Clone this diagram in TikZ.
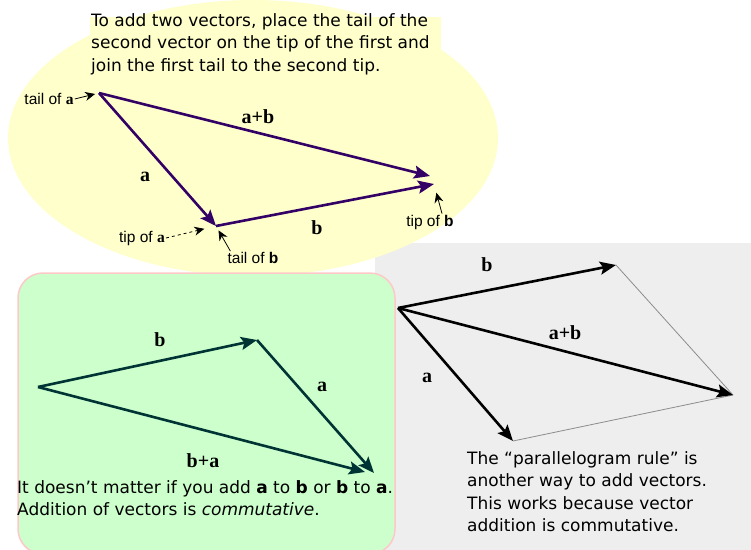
\documentclass[tikz,border=0pt]{standalone}
\usepackage{fontspec}
\setmainfont{DejaVu Sans}
\newfontfamily\labelfont{Liberation Sans}
\newfontfamily\vecfont{Liberation Serif}
\usetikzlibrary{arrows.meta,positioning}

\definecolor{ovalyellow}{HTML}{FFFFCC}
\definecolor{boxgreen}{HTML}{CCFFCC}
\definecolor{boxpink}{HTML}{FFC8C8}
\definecolor{panelgray}{HTML}{EEEEEE}
\definecolor{vecpurple}{HTML}{330066}
\definecolor{vecteal}{HTML}{003333}

\newcommand{\sva}{{\vecfont\bfseries a}}
\newcommand{\svb}{{\bfseries b}}

\begin{document}
\begin{tikzpicture}[x=1pt, y=-1pt,
  vec/.style={line width=2.6pt, -{Stealth[length=16pt, width=13pt, inset=3pt]}},
  topvec/.style={vec, draw=vecpurple},
  grnvec/.style={vec, draw=vecteal},
  parvec/.style={vec, draw=black},
  edge/.style={draw=black!45, line width=0.8pt},
  vlabel/.style={font=\fontsize{20}{21}\vecfont\bfseries, inner sep=1pt},
  ptr/.style={font=\fontsize{15.5}{16}\labelfont, inner sep=1pt},
  pointer/.style={draw=black, line width=0.8pt, -{Stealth[length=10pt, width=9pt]}},
  note/.style={font=\fontsize{17}{22.5}\selectfont, align=left, inner sep=0pt}
]
\useasboundingbox (0,0) rectangle (751,549);

% backgrounds
\fill[panelgray] (375,243) rectangle (760,560);
\fill[ovalyellow] (253,138) ellipse [x radius=245pt, y radius=138pt];
\fill[ovalyellow] (90,17) rectangle (441,85);
\draw[boxpink, fill=boxgreen, line width=1.5pt, rounded corners=25pt] (18,273) rectangle (395,554);

% tip-to-tail
\node[note, anchor=north west] (howto) at (91,13)
  {To add two vectors, place the tail of the\\
   second vector on the tip of the first and\\
   join the first tail to the second tip.};

\coordinate (ta) at (99,93);
\coordinate (pa) at (216,226);
\coordinate (pb) at (434,184);
\coordinate (pab) at (430,176);

\draw[topvec] (ta) -- (pa);
\draw[topvec] (pa) -- (pb);
\draw[topvec] (ta) -- (pab);

\node[vlabel] (lab) at (258,117) {a+b};
\node[vlabel] (la) at (145,177) {a};
\node[vlabel] (lb) at (317,228) {b};

\node[ptr] (tailA) at (49,99) {tail of \sva};
\node[ptr] (tipA) at (142,238) {tip of \sva};
\node[ptr] (tailB) at (253,258) {tail of \svb};
\node[ptr] (tipB) at (430,222) {tip of \svb};

\draw[pointer, shorten >=4pt] (tailA.east) -- (ta);
\draw[pointer, dashed, shorten >=12pt] (tipA.east) -- (pa);
\draw[pointer, shorten >=5pt] ([xshift=4pt]tailB.north west) -- (pa);
\draw[pointer, shorten >=9pt] ([xshift=12pt]tipB.north) -- (pb);

% commutative
\coordinate (gs) at (38,387);
\coordinate (gb) at (257,340);
\coordinate (ga) at (374,473);
\coordinate (gba) at (365,472);

\draw[grnvec] (gs) -- (gb);
\draw[grnvec] (gb) -- (ga);
\draw[grnvec] (gs) -- (gba);

\node[vlabel] (gl1) at (160,340) {b};
\node[vlabel] (gl2) at (322,387) {a};
\node[vlabel] (gl3) at (203,461) {b+a};

\node[note, anchor=north west] (order) at (17,480)
  {It doesn't matter if you add \textbf{a} to \textbf{b} or \textbf{b} to \textbf{a}.\\
   Addition of vectors is \textit{commutative}.};

% parallelogram
\coordinate (po) at (398,308);
\coordinate (qb) at (616,265);
\coordinate (qa) at (513,441);
\coordinate (qs) at (733,395);

\draw[edge] (qb) -- (qs);
\draw[edge] (qa) -- (qs);
\draw[parvec] (po) -- (qb);
\draw[parvec] (po) -- (qa);
\draw[parvec] (po) -- (qs);

\node[vlabel] (pl1) at (487,265) {b};
\node[vlabel] (pl2) at (565,333) {a+b};
\node[vlabel] (pl3) at (427,378) {a};

\node[note, anchor=north west] (rule) at (467,451)
  {The “parallelogram rule” is\\
   another way to add vectors.\\
   This works because vector\\
   addition is commutative.};
\end{tikzpicture}
\end{document}
